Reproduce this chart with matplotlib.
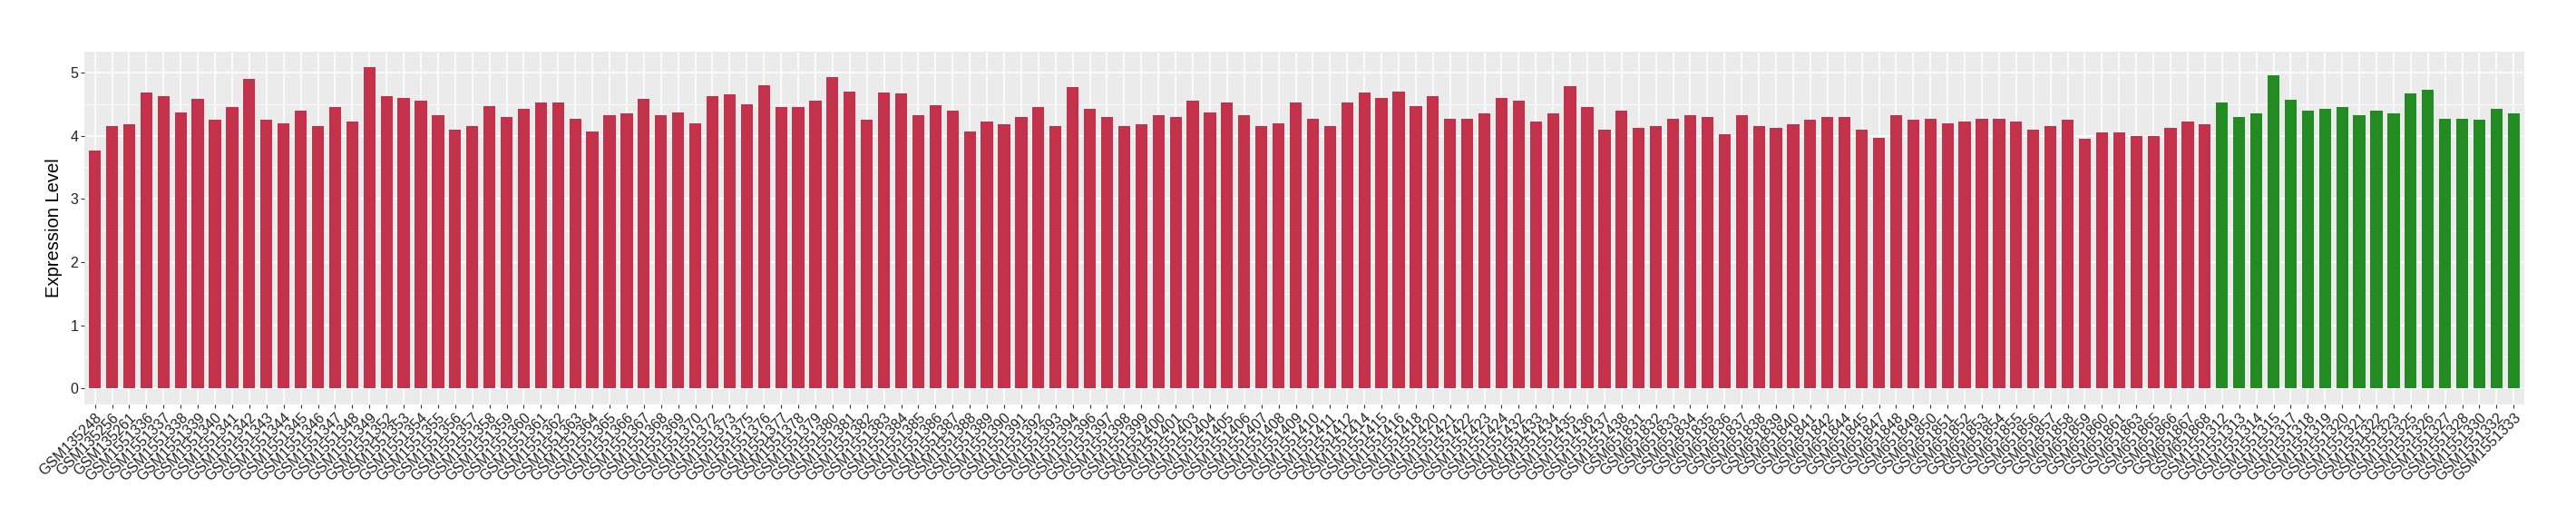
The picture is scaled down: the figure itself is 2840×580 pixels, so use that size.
import matplotlib
matplotlib.use("Agg")
import matplotlib.pyplot as plt
import numpy as np

group1_labels = [
    "GSM135248", "GSM135256", "GSM135261", "GSM1551336", "GSM1551337", "GSM1551338",
    "GSM1551339", "GSM1551340", "GSM1551341", "GSM1551342", "GSM1551343", "GSM1551344",
    "GSM1551345", "GSM1551346", "GSM1551347", "GSM1551348", "GSM1551349", "GSM1551352",
    "GSM1551353", "GSM1551354", "GSM1551355", "GSM1551356", "GSM1551357", "GSM1551358",
    "GSM1551359", "GSM1551360", "GSM1551361", "GSM1551362", "GSM1551363", "GSM1551364",
    "GSM1551365", "GSM1551366", "GSM1551367", "GSM1551368", "GSM1551369", "GSM1551370",
    "GSM1551372", "GSM1551373", "GSM1551375", "GSM1551376", "GSM1551377", "GSM1551378",
    "GSM1551379", "GSM1551380", "GSM1551381", "GSM1551382", "GSM1551383", "GSM1551384",
    "GSM1551385", "GSM1551386", "GSM1551387", "GSM1551388", "GSM1551389", "GSM1551390",
    "GSM1551391", "GSM1551392", "GSM1551393", "GSM1551394", "GSM1551396", "GSM1551397",
    "GSM1551398", "GSM1551399", "GSM1551400", "GSM1551401", "GSM1551403", "GSM1551404",
    "GSM1551405", "GSM1551406", "GSM1551407", "GSM1551408", "GSM1551409", "GSM1551410",
    "GSM1551411", "GSM1551412", "GSM1551414", "GSM1551415", "GSM1551416", "GSM1551418",
    "GSM1551420", "GSM1551421", "GSM1551422", "GSM1551423", "GSM1551424", "GSM1551432",
    "GSM1551433", "GSM1551434", "GSM1551435", "GSM1551436", "GSM1551437", "GSM1551438",
    "GSM651831", "GSM651832", "GSM651833", "GSM651834", "GSM651835", "GSM651836",
    "GSM651837", "GSM651838", "GSM651839", "GSM651840", "GSM651841", "GSM651842",
    "GSM651844", "GSM651845", "GSM651847", "GSM651848", "GSM651849", "GSM651850",
    "GSM651851", "GSM651852", "GSM651853", "GSM651854", "GSM651855", "GSM651856",
    "GSM651857", "GSM651858", "GSM651859", "GSM651860", "GSM651861", "GSM651863",
    "GSM651865", "GSM651866", "GSM651867", "GSM651868",
]
group1_values = [
    3.77, 4.16, 4.18, 4.69, 4.63, 4.375,
    4.59, 4.26, 4.45, 4.90, 4.26, 4.20,
    4.40, 4.15, 4.46, 4.23, 5.08, 4.63,
    4.60, 4.55, 4.33, 4.09, 4.15, 4.475,
    4.29, 4.43, 4.52, 4.53, 4.275, 4.06,
    4.32, 4.35, 4.59, 4.33, 4.375, 4.19,
    4.62, 4.65, 4.50, 4.80, 4.46, 4.45,
    4.55, 4.93, 4.70, 4.25, 4.69, 4.675,
    4.32, 4.49, 4.40, 4.06, 4.22, 4.175,
    4.30, 4.46, 4.16, 4.775, 4.42, 4.29,
    4.16, 4.175, 4.32, 4.30, 4.56, 4.375,
    4.52, 4.33, 4.16, 4.19, 4.52, 4.275,
    4.16, 4.52, 4.69, 4.60, 4.70, 4.475,
    4.62, 4.275, 4.275, 4.36, 4.60, 4.56,
    4.23, 4.35, 4.79, 4.46, 4.10, 4.40,
    4.13, 4.16, 4.275, 4.33, 4.30, 4.02,
    4.32, 4.16, 4.13, 4.175, 4.26, 4.30,
    4.29, 4.09, 3.96, 4.33, 4.26, 4.275,
    4.19, 4.23, 4.275, 4.275, 4.22, 4.10,
    4.15, 4.26, 3.95, 4.05, 4.05, 3.99,
    4.00, 4.13, 4.22, 4.175,
]

group2_labels = [
    "GSM1551312", "GSM1551313", "GSM1551314", "GSM1551315", "GSM1551317", "GSM1551318",
    "GSM1551319", "GSM1551320", "GSM1551321", "GSM1551322", "GSM1551323", "GSM1551325",
    "GSM1551326", "GSM1551327", "GSM1551328", "GSM1551330", "GSM1551332", "GSM1551333",
]
group2_values = [
    4.52, 4.29, 4.35, 4.96, 4.575, 4.39,
    4.42, 4.46, 4.33, 4.40, 4.36, 4.675,
    4.73, 4.275, 4.275, 4.25, 4.42, 4.36,
]

RED = "#C3314A"
GREEN = "#228B22"

plt.rcParams["font.family"] = ["Liberation Sans", "DejaVu Sans"]

labels = group1_labels + group2_labels
values = group1_values + group2_values
colors = [RED] * len(group1_labels) + [GREEN] * len(group2_labels)
x = np.arange(1, len(labels) + 1)

fig = plt.figure(figsize=(28.4, 5.8), dpi=100)
ax = fig.add_axes([0.03285, 0.2310, 0.9798 - 0.03285, 0.9022 - 0.2310])
ax.set_facecolor("#EBEBEB")

ax.bar(x, values, width=0.7, color=colors, zorder=3)

ax.set_xlim(0.4, len(labels) + 0.6)
ax.set_ylim(-0.254, 5.334)
ax.set_yticks(range(6))
ax.set_yticks(np.arange(0.5, 5.5, 1.0), minor=True)
ax.set_xticks(x)
ax.set_xticklabels(labels, rotation=45, ha="right", va="top",
                   rotation_mode="anchor", fontsize=11.5, color="#222222")
for lab in ax.get_yticklabels():
    lab.set_fontsize(11.5)
    lab.set_color("#222222")

ax.grid(which="major", color="white", linewidth=1.1, zorder=1)
ax.grid(which="minor", axis="y", color="white", linewidth=0.55, zorder=1)
ax.set_axisbelow(True)
ax.tick_params(which="major", length=3, width=0.8, color="#333333", pad=2)
ax.tick_params(which="minor", length=0)
for s in ax.spines.values():
    s.set_visible(False)

ax.set_ylabel("Expression Level", fontsize=14.5, labelpad=6)

fig.savefig("out.png", dpi=100, facecolor="white")
